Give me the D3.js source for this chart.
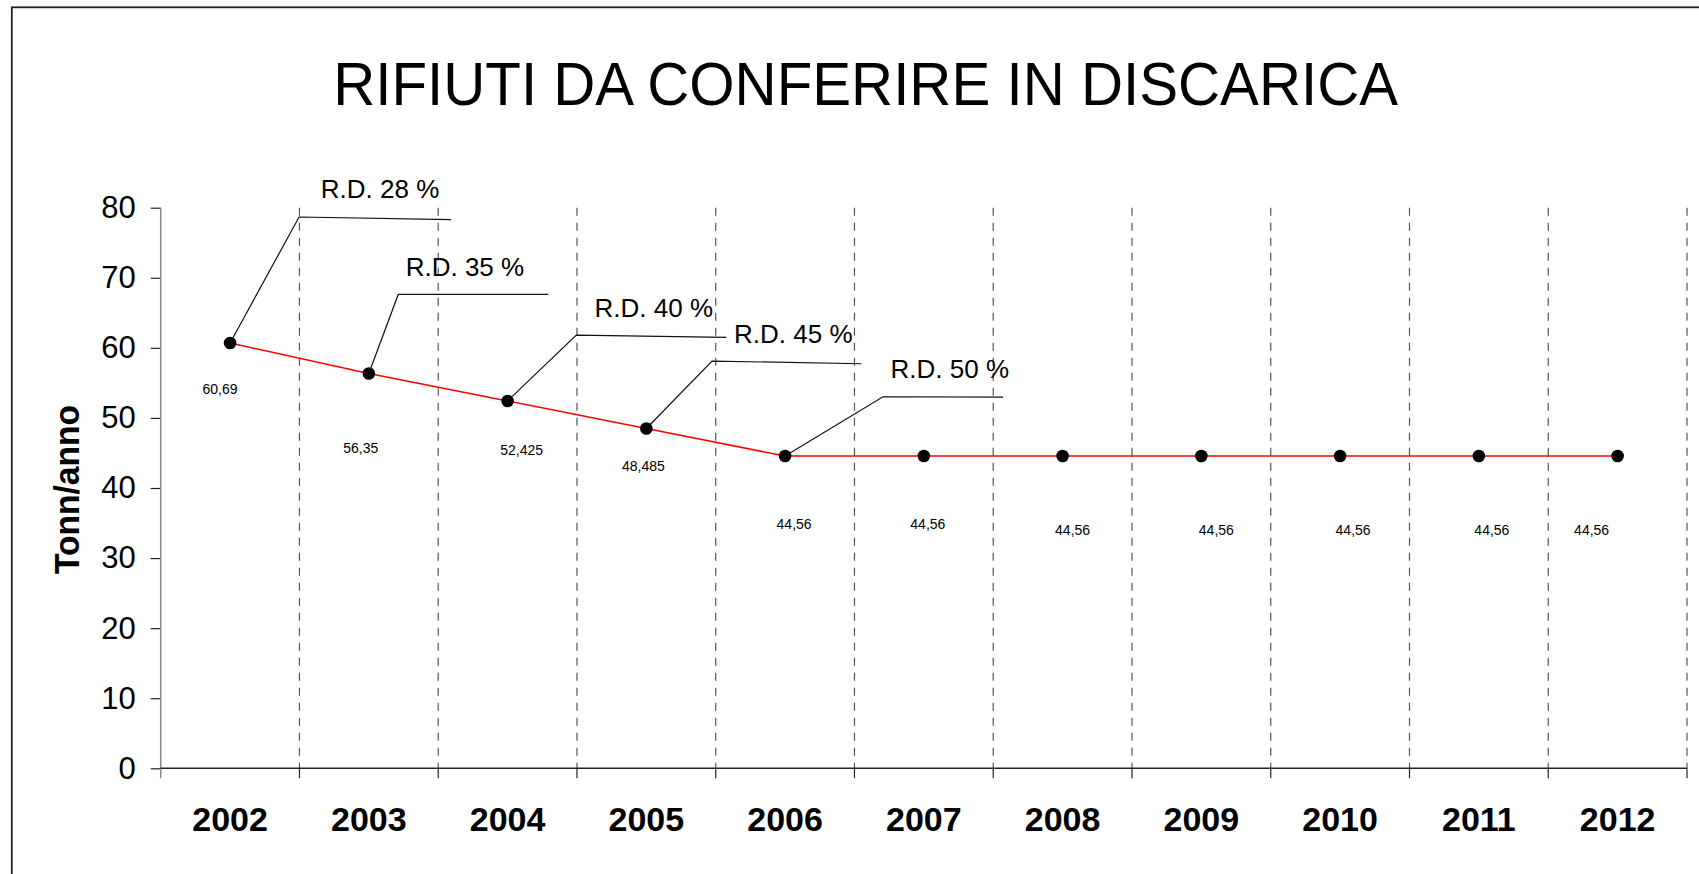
<!DOCTYPE html>
<html>
<head>
<meta charset="utf-8">
<script src="https://cdn.jsdelivr.net/npm/d3@7/dist/d3.min.js"></script>
<style>
  html, body { margin: 0; padding: 0; background: #fff; }
  svg { display: block; font-family: "Liberation Sans", Arial, sans-serif; }
</style>
</head>
<body>
<svg id="chart" width="1699" height="874"></svg>
<script>
// ---- data ----
const title = "RIFIUTI DA CONFERIRE IN DISCARICA";
const yTitle = "Tonn/anno";
const categories = ["2002","2003","2004","2005","2006","2007","2008","2009","2010","2011","2012"];
const values = [60.69, 56.35, 52.425, 48.485, 44.56, 44.56, 44.56, 44.56, 44.56, 44.56, 44.56];
const valueLabels = ["60,69","56,35","52,425","48,485","44,56","44,56","44,56","44,56","44,56","44,56","44,56"];
const yTicks = [0, 10, 20, 30, 40, 50, 60, 70, 80];
const rdCategories = ["2002","2003","2004","2005","2006"];
const rdLabels = ["R.D. 28 %","R.D. 35 %","R.D. 40 %","R.D. 45 %","R.D. 50 %"];

// ---- layout (pixel offsets of hand-placed labels, relative to each point) ----
const valueLabelOffsets = [[-10,51],[-8,80],[14,54],[-3,42],[9,73],[4,73],[10,79],[15,79],[13,79],[13,79],[-26,79]];
// elbow offset from point, horizontal line length, end dy, text offset from elbow
const calloutLayout = [
  {ex:69, ey:-126, len:152, edy:2.7, tx:81, ty:-19},
  {ex:29.4, ey:-79, len:150, edy:0, tx:66.7, ty:-18.3},
  {ex:68.7, ey:-65.8, len:150, edy:2.3, tx:77.5, ty:-18},
  {ex:65.7, ey:-67.5, len:149.3, edy:2.7, tx:81.3, ty:-18.3},
  {ex:97.9, ey:-59.3, len:120, edy:0.3, tx:66.8, ty:-18.4}
];

const svg = d3.select("#chart");
const plot = {left: 160.7, right: 1687, top: 207.7, bottom: 768.3};

const x = d3.scaleBand().domain(categories).range([plot.left, plot.right]).padding(0);
const y = d3.scaleLinear().domain([0, 80]).range([plot.bottom, plot.top]);
const cx = d => x(d) + x.bandwidth() / 2;

// frame
svg.append("rect")
  .attr("x", 11.8).attr("y", 7.3)
  .attr("width", 1760).attr("height", 900)
  .attr("fill", "none").attr("stroke", "#222").attr("stroke-width", 1.8);

// title
svg.append("text")
  .attr("x", 865.7).attr("y", 105)
  .attr("text-anchor", "middle")
  .attr("font-size", 62)
  .attr("textLength", 1065)
  .attr("lengthAdjust", "spacingAndGlyphs")
  .attr("fill", "#000")
  .text(title);

// vertical dashed boundaries
const boundaries = categories.slice(1).map(c => x(c)).concat([plot.right]);
svg.append("g").selectAll("line").data(boundaries).join("line")
  .attr("x1", d => d).attr("x2", d => d)
  .attr("y1", plot.top).attr("y2", plot.bottom)
  .attr("stroke", "#555").attr("stroke-width", 1.2)
  .attr("stroke-dasharray", "8,7");

// y axis
const yAxis = svg.append("g")
  .attr("transform", `translate(${plot.left},0)`)
  .call(d3.axisLeft(y).tickValues(yTicks).tickSize(10).tickPadding(15).tickSizeOuter(0));
yAxis.select(".domain").remove();
yAxis.selectAll(".tick line").attr("stroke", "#222").attr("stroke-width", 1.2);
yAxis.selectAll(".tick text")
  .attr("font-size", 31)
  .attr("font-family", "Liberation Sans, Arial, sans-serif")
  .attr("fill", "#000");
svg.append("line")
  .attr("x1", plot.left).attr("x2", plot.left)
  .attr("y1", plot.top).attr("y2", plot.bottom + 10)
  .attr("stroke", "#888").attr("stroke-width", 1.5);

// x axis
const xAxis = svg.append("g")
  .attr("transform", `translate(0,${plot.bottom})`)
  .call(d3.axisBottom(x).tickSize(0).tickPadding(0));
xAxis.select(".domain").remove();
xAxis.selectAll(".tick text")
  .attr("y", 63).attr("dy", 0)
  .attr("font-size", 34).attr("font-weight", "bold")
  .attr("font-family", "Liberation Sans, Arial, sans-serif")
  .attr("fill", "#000");
svg.append("line")
  .attr("x1", plot.left).attr("x2", plot.right)
  .attr("y1", plot.bottom).attr("y2", plot.bottom)
  .attr("stroke", "#222").attr("stroke-width", 1.5);
svg.append("g").selectAll("line").data(boundaries).join("line")
  .attr("x1", d => d).attr("x2", d => d)
  .attr("y1", plot.bottom).attr("y2", plot.bottom + 10)
  .attr("stroke", "#222").attr("stroke-width", 1.2);

// y axis title
svg.append("text")
  .attr("transform", "translate(79.3,489.5) rotate(-90)")
  .attr("text-anchor", "middle")
  .attr("font-size", 35).attr("font-weight", "bold")
  .attr("textLength", 169).attr("lengthAdjust", "spacingAndGlyphs")
  .attr("fill", "#000")
  .text(yTitle);

// line
const line = d3.line().x((d, i) => cx(categories[i])).y(d => y(d));
svg.append("path")
  .datum(values)
  .attr("d", line)
  .attr("fill", "none").attr("stroke", "#ff0000").attr("stroke-width", 1.6);

// callouts
rdCategories.forEach((c, k) => {
  const i = categories.indexOf(c);
  const px = cx(c), py = y(values[i]);
  const L = calloutLayout[k];
  const ex = px + L.ex, ey = py + L.ey;
  svg.append("path")
    .attr("d", d3.line()([[px, py], [ex, ey], [ex + L.len, ey + L.edy]]))
    .attr("fill", "none").attr("stroke", "#111").attr("stroke-width", 1.2);
  svg.append("text")
    .attr("x", ex + L.tx).attr("y", ey + L.ty)
    .attr("text-anchor", "middle")
    .attr("font-size", 26).attr("fill", "#000")
    .text(rdLabels[k]);
});

// points
svg.append("g").selectAll("circle").data(values).join("circle")
  .attr("cx", (d, i) => cx(categories[i]))
  .attr("cy", d => y(d))
  .attr("r", 6.3)
  .attr("fill", "#000");

// value labels
svg.append("g").selectAll("text").data(values).join("text")
  .attr("x", (d, i) => cx(categories[i]) + valueLabelOffsets[i][0])
  .attr("y", (d, i) => y(d) + valueLabelOffsets[i][1])
  .attr("text-anchor", "middle")
  .attr("font-size", 14).attr("fill", "#000")
  .text((d, i) => valueLabels[i]);
</script>
</body>
</html>
